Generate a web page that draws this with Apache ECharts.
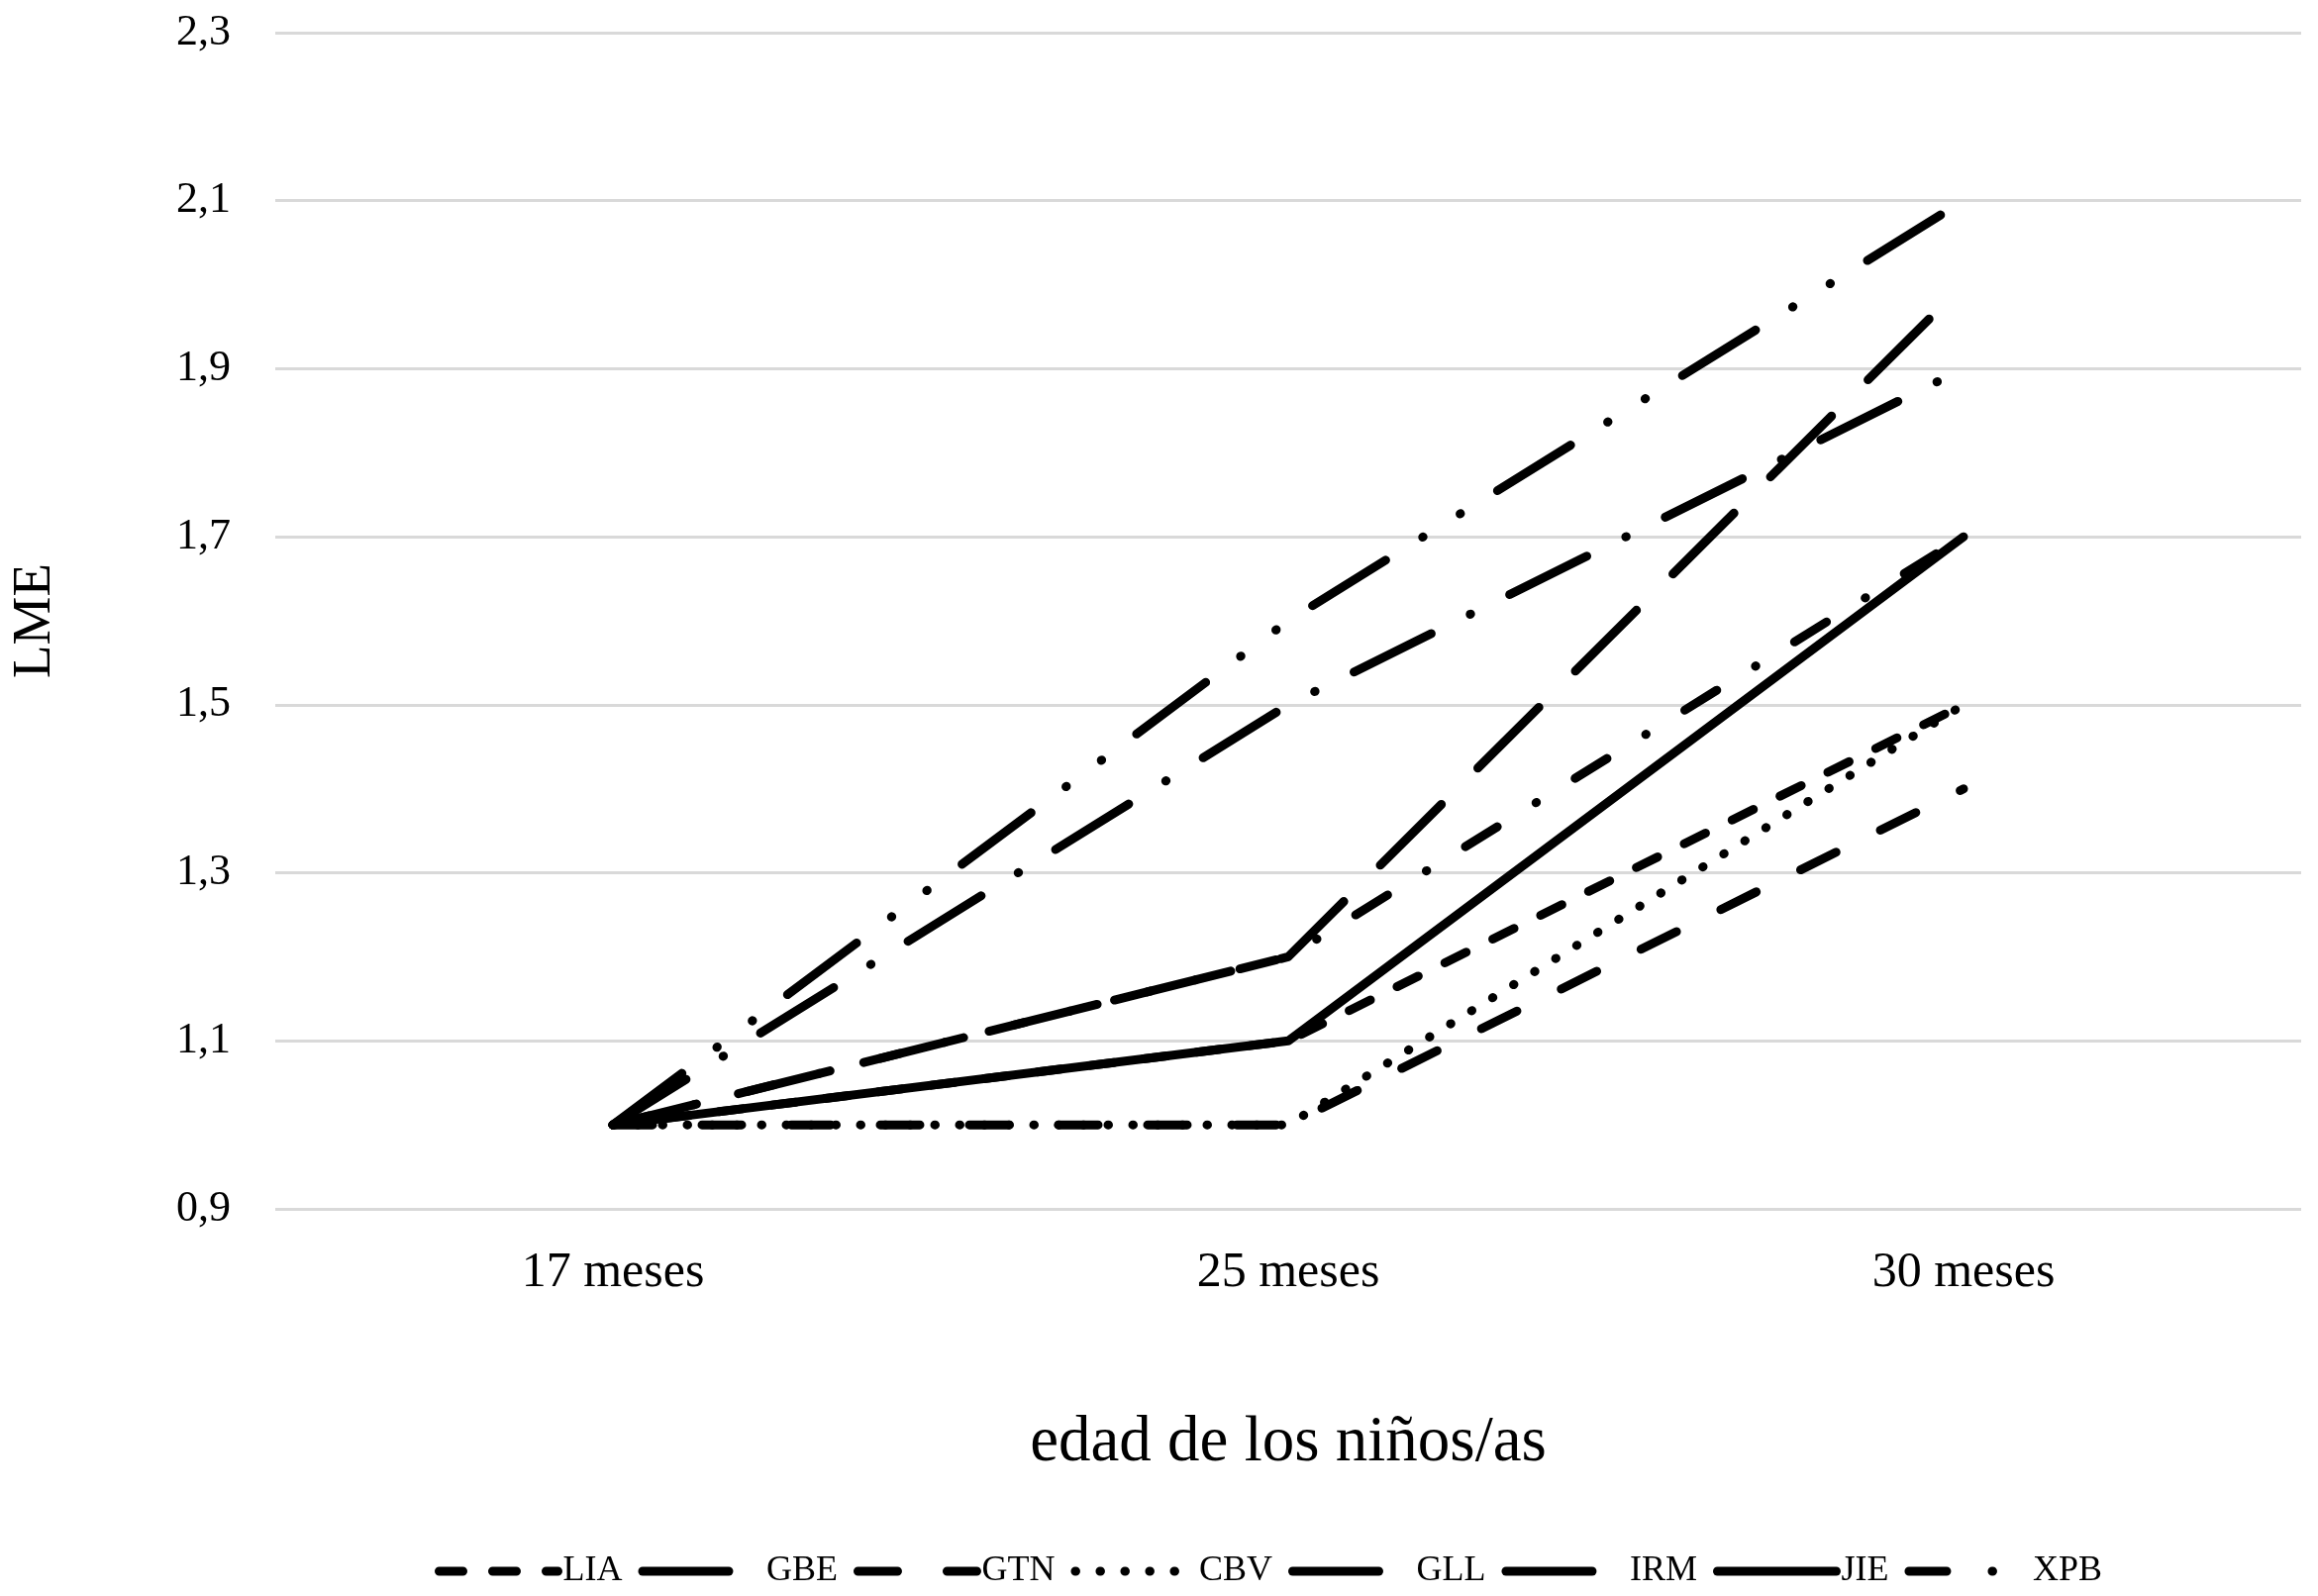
<!DOCTYPE html>
<html>
<head>
<meta charset="utf-8">
<script src="https://cdn.jsdelivr.net/npm/echarts@6/dist/echarts.min.js"></script>
<style>
html,body{margin:0;padding:0;background:#fff;}
#chart{width:2341px;height:1612px;}
</style>
</head>
<body>
<div id="chart"></div>
<script>
// ---- data ----
const categories = ['17 meses', '25 meses', '30 meses'];
const seriesNames = ['LIA', 'GBE', 'GTN', 'CBV', 'GLL', 'IRM', 'JIE', 'XPB'];
const LIA = [1.0, 1.1, 1.5];
const GBE = [1.0, 1.2, 2.0];
const GTN = [1.0, 1.0, 1.4];
const CBV = [1.0, 1.0, 1.5];
const GLL = [1.0, 1.5, 1.9];
const IRM = [1.0, 1.6, 2.1];
const JIE = [1.0, 1.1, 1.7];
const XPB = [1.0, 1.2, 1.7];
const yTicks = [0.9, 1.1, 1.3, 1.5, 1.7, 1.9, 2.1, 2.3];

// ---- styles ----
const W = 9;
const dashStyles = {
  LIA: [24, 30],
  GBE: [87, 52],
  GTN: [40, 50],
  CBV: [0.5, 24.5],
  GLL: [87, 44, 0.5, 44],
  IRM: [87, 44, 0.5, 44, 0.5, 44],
  JIE: 'solid',
  XPB: [38, 46, 0.5, 46]
};
const values = { LIA, GBE, GTN, CBV, GLL, IRM, JIE, XPB };
const serif = '"Liberation Serif", "Times New Roman", serif';

const chart = echarts.init(document.getElementById('chart'));
chart.setOption({
  backgroundColor: '#ffffff',
  animation: false,
  grid: { left: 276, right: 17, top: 33, bottom: 391, containLabel: false },
  legend: {
    left: 434,
    top: 1564,
    itemWidth: 120,
    itemHeight: 30,
    itemGap: 16,
    data: seriesNames,
    textStyle: { fontFamily: serif, fontSize: 36, color: '#000' },
    lineStyle: { width: W },
    itemStyle: { color: 'transparent', borderColor: 'transparent', borderWidth: 0, opacity: 0 }
  },
  xAxis: {
    type: 'category',
    data: categories,
    boundaryGap: true,
    axisLine: { show: false },
    axisTick: { show: false },
    axisLabel: { fontFamily: serif, fontSize: 50, color: '#000', margin: 40 },
    name: 'edad de los niños/as',
    nameLocation: 'middle',
    nameGap: 204,
    nameTextStyle: { fontFamily: serif, fontSize: 65, color: '#000' }
  },
  yAxis: {
    type: 'value',
    min: yTicks[0],
    max: yTicks[yTicks.length - 1],
    interval: 0.2,
    axisLine: { show: false },
    axisTick: { show: false },
    splitLine: { show: true, lineStyle: { color: '#d9d9d9', width: 3 } },
    axisLabel: {
      fontFamily: serif, fontSize: 44, color: '#000', margin: 45,
      formatter: v => v.toFixed(1).replace('.', ',')
    },
    name: 'LME',
    nameLocation: 'middle',
    nameRotate: 90,
    nameGap: 215,
    nameTextStyle: { fontFamily: serif, fontSize: 55, color: '#000' }
  },
  series: seriesNames.map(n => ({
    name: n,
    type: 'line',
    data: values[n],
    symbol: 'none',
    showSymbol: false,
    lineStyle: { color: '#000', width: W, type: dashStyles[n], cap: 'round', join: 'round' },
    itemStyle: { color: '#000' }
  }))
});
</script>
</body>
</html>
